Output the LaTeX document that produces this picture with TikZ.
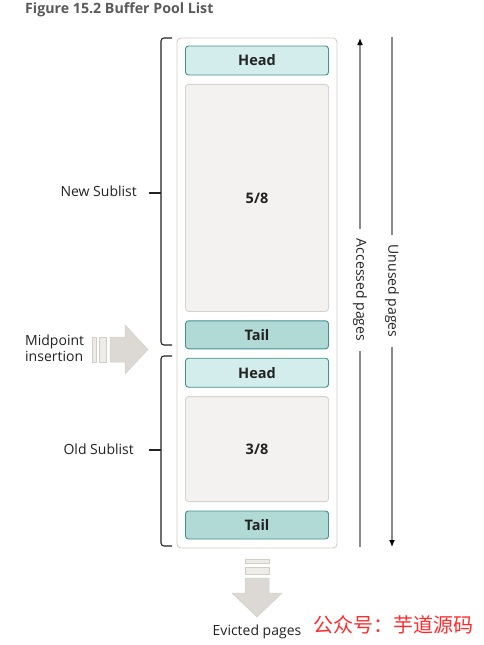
\documentclass[tikz,border=0pt]{standalone}
\usepackage{fontspec}
\setmainfont{Open Sans}
\newfontfamily\cjk{Noto Sans CJK SC}
\usepackage{xcolor}
\usetikzlibrary{arrows.meta,positioning}
\definecolor{textdark}{HTML}{222222}
\definecolor{titlegray}{HTML}{5A5A5A}
\definecolor{headfill}{HTML}{D3ECEC}
\definecolor{tailfill}{HTML}{B1DAD7}
\definecolor{slotedge}{HTML}{43918E}
\definecolor{pagefill}{HTML}{F3F2F0}
\definecolor{pageedge}{HTML}{D6D3CD}
\definecolor{pooledge}{HTML}{D2CEC7}
\definecolor{arrowfill}{HTML}{DCD9D4}
\definecolor{barfill}{HTML}{EEECE9}
\definecolor{flowgray}{HTML}{8A8A8A}
\definecolor{markred}{HTML}{FF2A2A}

\begin{document}
\begin{tikzpicture}[x=1pt,y=-1pt,node distance=8.5pt,
  every node/.style={font=\fontsize{14}{16}\selectfont,text=textdark},
  slot/.style={draw,rounded corners=3pt,minimum width=143pt,inner sep=0pt,line width=0.9pt},
  headbox/.style={slot,draw=slotedge,fill=headfill,minimum height=29pt,font=\fontsize{14.5}{16}\selectfont\bfseries},
  tailbox/.style={slot,draw=slotedge,fill=tailfill,minimum height=28pt,font=\fontsize{14.5}{16}\selectfont\bfseries},
  pagebox/.style={slot,draw=pageedge,fill=pagefill,font=\fontsize{14.5}{16}\selectfont\bfseries},
  bracket/.style={draw=textdark,line width=1.1pt,rounded corners=3pt},
  flow/.style={draw=flowgray,line width=1.3pt},
  flowtip/.style={flow,-{Latex[length=7pt,width=6pt,color=black]}},
  bigarrow/.style={fill=arrowfill,draw=pooledge,line width=0.5pt},
  bar/.style={fill=barfill,draw=pooledge,line width=0.6pt}]
\useasboundingbox (0,0) rectangle (484,645);
\node[anchor=west,inner sep=0pt,text=titlegray,font=\fontsize{14.2}{16}\selectfont\bfseries] (title) at (25,10) {Figure 15.2 Buffer Pool List};

% the list
\node[draw=pooledge,fill=white,rounded corners=4pt,line width=0.9pt,minimum width=160pt,minimum height=510pt] (pool) at (257,293) {};
\node[headbox] (newhead) at (257,60.5) {Head};
\node[pagebox,minimum height=227pt,below=of newhead] (newpages) {5/8};
\node[tailbox,below=of newpages] (newtail) {Tail};
\node[headbox,below=of newtail] (oldhead) {Head};
\node[pagebox,minimum height=105pt,below=of oldhead] (oldpages) {3/8};
\node[tailbox,below=of oldpages] (oldtail) {Tail};

% sublist brackets
\node[anchor=east,inner sep=0pt] (newlabel) at (137,191) {New Sublist};
\node[anchor=east,inner sep=0pt] (oldlabel) at (134,449) {Old Sublist};
\draw[bracket] (172,38) -- (161,38) -- (161,345) -- (172,345);
\draw[bracket] (149,193) -- (161,193);
\draw[bracket] (172,356) -- (161,356) -- (161,546) -- (172,546);
\draw[bracket] (149,450) -- (161,450);

% midpoint insertion
\node[anchor=west,align=left,inner sep=0pt] (midlabel) at (25,348.5) {Midpoint\\insertion};
\draw[bar] (92,337) rectangle (96,362);
\draw[bar] (99,337) rectangle (106,362);
\draw[bigarrow] (110,337) -- (125,337) -- (125,325) -- (148,349.5) -- (125,374) -- (125,362) -- (110,362) -- cycle;

% eviction
\draw[bar] (245,559) rectangle (269,563);
\draw[bar] (245,567) rectangle (269,574);
\draw[bigarrow] (245,578) -- (269,578) -- (269,593) -- (282,593) -- (257,617) -- (232,593) -- (245,593) -- cycle;
\node (evicted) at (257,632) {Evicted pages};

% page flows
\coordinate (acctop) at (360,38);
\coordinate (accbot) at (360,547);
\coordinate (unutop) at (392,37);
\coordinate (unubot) at (392,547);
\node[rotate=-90,inner xsep=10pt,inner ysep=0pt] (accessed) at (360,290) {Accessed pages};
\node[rotate=-90,inner xsep=9pt,inner ysep=0pt] (unused) at (392,291) {Unused pages};
\draw[flowtip] (accessed.west) -- (acctop);
\draw[flow] (accessed.east) -- (accbot);
\draw[flow] (unused.west) -- (unutop);
\draw[flowtip] (unused.east) -- (unubot);

\node[text=markred,font=\cjk\fontsize{20}{22}\selectfont] (mark) at (393.5,625) {公众号：芋道源码};
\end{tikzpicture}
\end{document}
